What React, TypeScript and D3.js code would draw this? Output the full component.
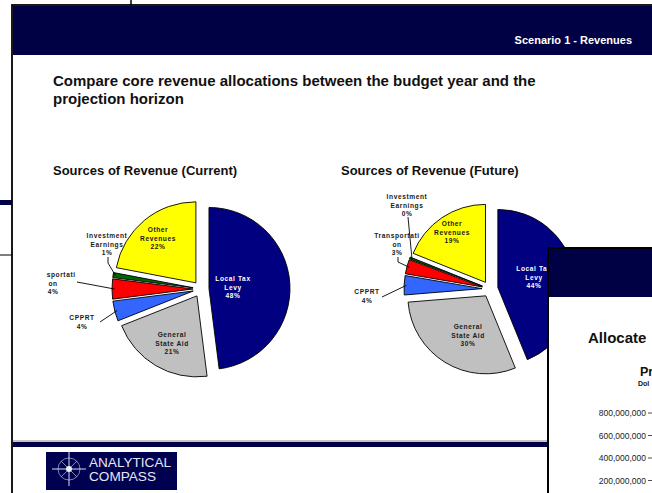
import React from "react";
import * as d3 from "d3";

/* DATA */
const categories = [
  "Local Tax Levy",
  "General State Aid",
  "CPPRT",
  "Transportation",
  "Investment Earnings",
  "Other Revenues",
];
const labelText = [
  ["Local Tax", "Levy"],
  ["General", "State Aid"],
  ["CPPRT"],
  ["Transportati", "on"],
  ["Investment", "Earnings"],
  ["Other", "Revenues"],
];
const currentValues = [48, 21, 4, 4, 1, 22];
const futureValues = [44, 30, 4, 3, 0.4, 19];
const axisTicks = [800000000, 600000000, 400000000, 200000000];

const sliceColors = ["#000080", "#c0c0c0", "#3366ff", "#ff0000", "#006600", "#ffff00"];
const labelColors = ["#ffffff", "#1a1a1a", "#1a1a1a", "#1a1a1a", "#1a1a1a", "#1a1a1a"];

const FONT = "'Liberation Sans', Arial, Helvetica, sans-serif";
const NAVY = "#000044";

/* label placement, relative to the pie centre */
const currentLayout = {
  cx: 201,
  cy: 289,
  r: 81,
  explode: 8,
  clipX: 46,
  labels: [
    { dx: 32, dy: -2 },
    { dx: -29, dy: 54 },
    { dx: -119, dy: 33, leader: [[18, 0]] },
    { dx: -148, dy: -6, leader: [[24, -1]] },
    { dx: -94, dy: -45, leader: [[1, 13], [1, 19]] },
    { dx: -43, dy: -51 },
  ],
};

const futureLayout = {
  cx: 490,
  cy: 289,
  r: 78,
  explode: 8,
  clipX: 330,
  labels: [
    { dx: 44, dy: -12 },
    { dx: -22, dy: 46 },
    { dx: -123, dy: 7, leader: [[15, 1]] },
    { dx: -93, dy: -45, leader: [[1, 13], [1, 18]] },
    { dx: -83, dy: -84, leader: [[1, 12]] },
    { dx: -38, dy: -57 },
  ],
};

const LINE_H = 8.8;

function RevenuePie(props: { values: number[]; layout: any; id: string }) {
  const { values, layout, id } = props;
  const total = d3.sum(values);
  const arcs = d3
    .pie<number>()
    .sort(null)
    .value((d) => d)(values);
  const arc = d3
    .arc<d3.PieArcDatum<number>>()
    .innerRadius(0)
    .outerRadius(layout.r);

  const dir = (a: number) => [Math.sin(a), -Math.cos(a)];

  return (
    <g>
      <defs>
        <clipPath id={id}>
          <rect x={layout.clipX} y={150} width={320} height={290} />
        </clipPath>
      </defs>
      <g clipPath={`url(#${id})`}>
        <g transform={`translate(${layout.cx},${layout.cy})`}>
          {arcs.map((a, i) => {
            const mid = (a.startAngle + a.endAngle) / 2;
            const [ux, uy] = dir(mid);
            return (
              <path
                key={categories[i]}
                d={arc(a) as string}
                transform={`translate(${ux * layout.explode},${uy * layout.explode})`}
                fill={sliceColors[i]}
                stroke="#000"
                strokeWidth={0.9}
              />
            );
          })}
          {arcs.map((a, i) => {
            const lab = layout.labels[i];
            if (!lab.leader) return null;
            const mid = (a.startAngle + a.endAngle) / 2;
            const [ux, uy] = dir(mid);
            const reach = layout.explode + layout.r * 0.97;
            const pts = lab.leader.map((p: number[]) => [lab.dx + p[0], lab.dy + p[1]]);
            pts.push([ux * reach, uy * reach]);
            return (
              <path
                key={"leader" + i}
                d={d3.line()(pts as [number, number][]) as string}
                fill="none"
                stroke="#000"
                strokeWidth={0.9}
              />
            );
          })}
          {arcs.map((a, i) => {
            const lab = layout.labels[i];
            const lines = [...labelText[i], Math.round((values[i] / total) * 100) + "%"];
            const top = lab.dy - ((lines.length - 1) * LINE_H) / 2;
            return (
              <text
                key={"label" + i}
                textAnchor="middle"
                fontFamily={FONT}
                fontWeight="bold"
                fontSize={6.6}
                letterSpacing={0.6}
                fill={labelColors[i]}
              >
                {lines.map((t, j) => (
                  <tspan key={j} x={lab.dx} y={top + j * LINE_H} dominantBaseline="central">
                    {t}
                  </tspan>
                ))}
              </text>
            );
          })}
        </g>
      </g>
    </g>
  );
}

function Logo() {
  const cx = 69;
  const cy = 469;
  const rays = d3.range(8).map((k) => (k * Math.PI) / 4);
  return (
    <g>
      <rect x={46} y={452} width={131} height={38} fill="#000050" />
      <circle cx={cx} cy={cy} r={11} fill="none" stroke="#9aa0c8" strokeWidth={0.8} />
      {rays.map((a, k) => {
        const len = k % 2 === 0 ? 17 : 11;
        return (
          <line
            key={k}
            x1={cx}
            y1={cy}
            x2={cx + Math.sin(a) * len}
            y2={cy - Math.cos(a) * len}
            stroke="#d8dcf0"
            strokeWidth={k % 2 === 0 ? 1 : 0.6}
          />
        );
      })}
      <circle cx={cx} cy={cy} r={3} fill="#ffffff" opacity={0.9} />
      <text x={89} y={467} fontFamily={FONT} fontSize={12.5} fill="#e6e8f4" textLength={82} lengthAdjust="spacingAndGlyphs">
        ANALYTICAL
      </text>
      <text x={89} y={481} fontFamily={FONT} fontSize={12.5} fill="#e6e8f4" textLength={67} lengthAdjust="spacingAndGlyphs">
        COMPASS
      </text>
    </g>
  );
}

function FrontWindow() {
  const y = d3.scaleLinear().domain([0, 800000000]).range([503, 413]);
  const fmt = d3.format(",");
  return (
    <g>
      <rect x={548} y={248} width={120} height={260} fill="#fff" stroke="#000" strokeWidth={2} />
      <rect x={549} y={249} width={110} height={48} fill={NAVY} />
      <text x={588} y={337} dominantBaseline="central" fontFamily={FONT} fontWeight="bold" fontSize={15} fill="#111">
        Allocate
      </text>
      <text x={640} y={372} dominantBaseline="central" fontFamily={FONT} fontWeight="bold" fontSize={12.5} fill="#111">
        Pr
      </text>
      <text x={638} y={383} dominantBaseline="central" fontFamily={FONT} fontWeight="bold" fontSize={7} fill="#111">
        Dol
      </text>
      {axisTicks.map((t) => (
        <g key={t}>
          <text x={646} y={y(t)} textAnchor="end" dominantBaseline="central" fontFamily={FONT} fontSize={8.5} fill="#222">
            {fmt(t)}
          </text>
          <line x1={648} x2={652} y1={y(t)} y2={y(t)} stroke="#222" strokeWidth={0.8} />
        </g>
      ))}
    </g>
  );
}

export default function App() {
  return (
    <svg
      width={652}
      height={493}
      style={{ position: "absolute", left: 0, top: 0, background: "#fff" }}
    >
      {/* windows behind */}
      <line x1={131} x2={131} y1={0} y2={6} stroke="#000" strokeWidth={1.5} />
      <rect x={0} y={200} width={12} height={5} fill={NAVY} />
      <line x1={0} x2={12} y1={255} y2={255} stroke="#000" strokeWidth={1} />

      {/* main slide */}
      <rect x={12} y={5} width={660} height={500} fill="#fff" stroke="#000" strokeWidth={1.8} />
      <rect x={13} y={6} width={652} height={49} fill={NAVY} />
      <text x={632} y={40} textAnchor="end" dominantBaseline="central" fontFamily={FONT} fontWeight="bold" fontSize={11} fill="#fff">
        Scenario 1 - Revenues
      </text>
      <text fontFamily={FONT} fontWeight="bold" fontSize={15} fill="#111">
        <tspan x={53} y={80} dominantBaseline="central">
          Compare core revenue allocations between the budget year and the
        </tspan>
        <tspan x={53} y={98} dominantBaseline="central">
          projection horizon
        </tspan>
      </text>
      <text x={53} y={170} dominantBaseline="central" fontFamily={FONT} fontWeight="bold" fontSize={13} fill="#111">
        Sources of Revenue (Current)
      </text>
      <text x={341} y={170} dominantBaseline="central" fontFamily={FONT} fontWeight="bold" fontSize={13} fill="#111">
        Sources of Revenue (Future)
      </text>

      <RevenuePie values={currentValues} layout={currentLayout} id="clipCurrent" />
      <RevenuePie values={futureValues} layout={futureLayout} id="clipFuture" />

      <line x1={13} x2={548} y1={441} y2={441} stroke="#888" strokeWidth={1} />
      <rect x={13} y={442} width={535} height={5} fill={NAVY} />
      <Logo />

      <FrontWindow />
    </svg>
  );
}
